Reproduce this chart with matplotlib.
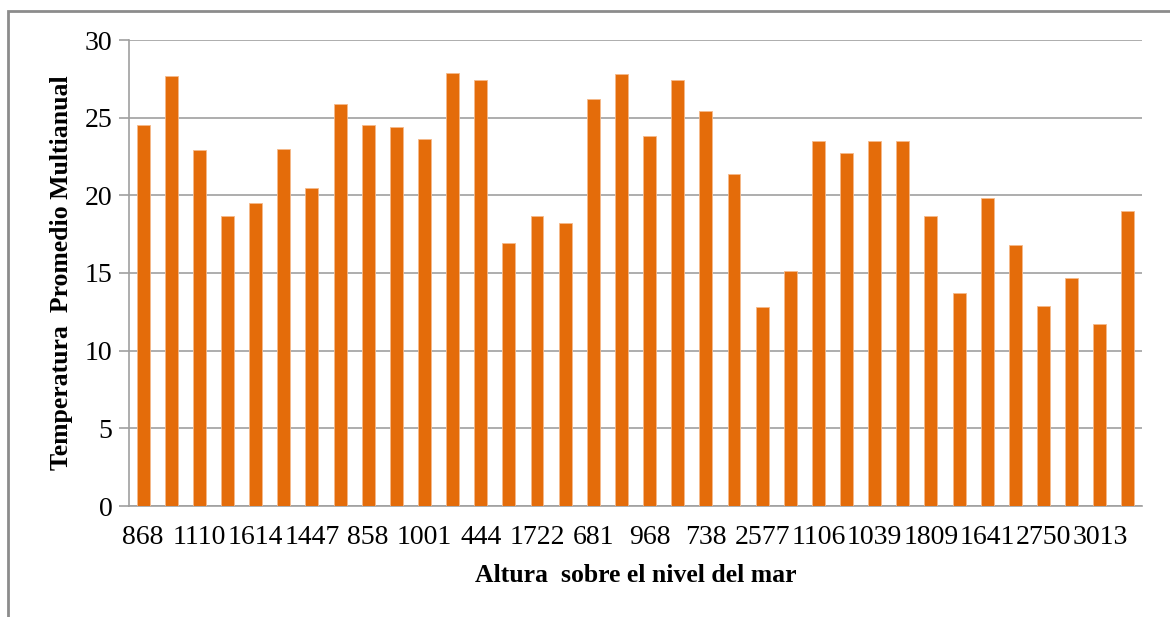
import matplotlib
matplotlib.use("Agg")
import matplotlib.pyplot as plt
from matplotlib.patches import Rectangle

# Data
temperatures = [24.5, 27.7, 22.9, 18.7, 19.5, 23.0, 20.5, 25.9, 24.5, 24.4,
                23.6, 27.9, 27.4, 16.9, 18.7, 18.2, 26.2, 27.8, 23.8, 27.4,
                25.4, 21.4, 12.8, 15.1, 23.5, 22.7, 23.5, 23.5, 18.7, 13.7,
                19.8, 16.8, 12.9, 14.7, 11.7, 19.0]
shown_labels = ["868", "1110", "1614", "1447", "858", "1001", "444", "1722", "681",
                "968", "738", "2577", "1106", "1039", "1809", "1641", "2750", "3013"]
y_ticks = [0, 5, 10, 15, 20, 25, 30]

plt.rcParams['font.family'] = ['Liberation Serif', 'DejaVu Serif']

fig = plt.figure(figsize=(11.7, 6.17), dpi=100)
ax = fig.add_axes([129/1170, 1 - 506/617, (1142 - 129)/1170, (506 - 40)/617])

x = list(range(len(temperatures)))
ax.bar(x, temperatures, width=0.46, color='#E46C0A', edgecolor='#F5B98A',
       linewidth=0.6, zorder=3)

ax.set_xlim(-0.5, len(temperatures) - 0.5)
ax.set_ylim(0, 30)
ax.set_yticks(y_ticks)
ax.set_yticklabels([str(v) for v in y_ticks], fontsize=20)
ax.set_xticks(x[::2])
ax.set_xticklabels(shown_labels, fontsize=20)
ax.tick_params(axis='x', length=0, pad=14)
ax.tick_params(axis='y', length=7, color='#A0A0A0', width=1.2, pad=5)

ax.yaxis.grid(True, color='#A0A0A0', linewidth=1.2, zorder=0)
ax.set_axisbelow(True)
for side in ['top', 'right']:
    ax.spines[side].set_visible(False)
for side in ['left', 'bottom']:
    ax.spines[side].set_color('#A0A0A0')
    ax.spines[side].set_linewidth(1.2)

ax.set_xlabel("Altura  sobre el nivel del mar", fontsize=18.5, fontweight='bold', labelpad=10)
ax.set_ylabel("Temperatura  Promedio Multianual", fontsize=18.5, fontweight='bold', labelpad=8)

# outer chart border (partially cut off at right and bottom)
border = Rectangle((8/1170, -0.2), 1.2, 1 - 11/617 + 0.2, transform=fig.transFigure,
                   fill=False, edgecolor='#8C8C8C', linewidth=2, clip_on=False)
fig.patches.append(border)

fig.savefig("out.png", dpi=100, facecolor='white')
